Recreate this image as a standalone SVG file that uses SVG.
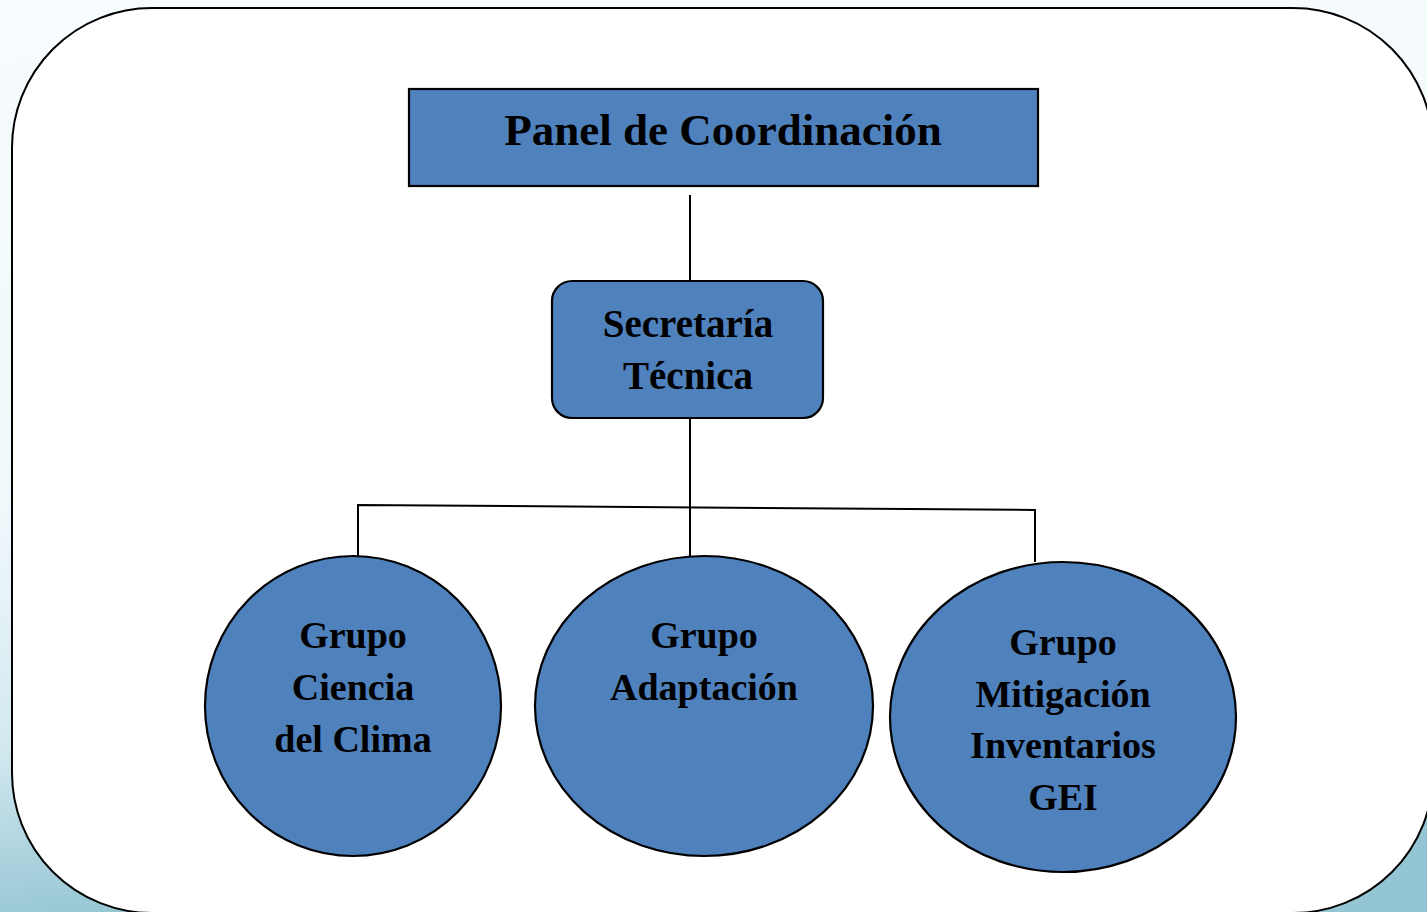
<svg xmlns="http://www.w3.org/2000/svg" width="1427" height="912" viewBox="0 0 1427 912">
  <defs>
    <linearGradient id="bg" x1="0" y1="0" x2="0.15" y2="1">
      <stop offset="0" stop-color="#f7fcfe"/>
      <stop offset="0.55" stop-color="#f0f8fb"/>
      <stop offset="0.8" stop-color="#d3e9f0"/>
      <stop offset="1" stop-color="#94c5d3"/>
    </linearGradient>
    <style>
      .node { fill: #4f81bd; stroke: #000; stroke-width: 2.2; }
      .lbl { font-family: "Liberation Serif", "DejaVu Serif", serif; font-weight: bold; fill: #000; text-anchor: middle; }
      .conn { stroke: #000; stroke-width: 2; fill: none; }
    </style>
  </defs>
  <rect x="0" y="0" width="1427" height="912" fill="url(#bg)"/>
  <rect x="12" y="8" width="1421" height="905" rx="140" ry="140" fill="#ffffff" stroke="#000" stroke-width="2"/>

  <g id="connectors">
    <line class="conn" x1="690" y1="195" x2="690" y2="281"/>
    <line class="conn" x1="690" y1="418" x2="690" y2="556"/>
    <polyline class="conn" points="358,556 358,505 1035,510 1035,562"/>
  </g>

  <g id="panel">
    <rect class="node" x="409" y="89" width="629" height="97"/>
    <text class="lbl" x="723" y="145" font-size="45">Panel de Coordinación</text>
  </g>

  <g id="secretaria">
    <rect class="node" x="552" y="281" width="271" height="137" rx="20" ry="20"/>
    <text class="lbl" x="688" y="337" font-size="39">Secretaría</text>
    <text class="lbl" x="688" y="389" font-size="39">Técnica</text>
  </g>

  <g id="grupo-ciencia">
    <ellipse class="node" cx="353" cy="706" rx="148" ry="150"/>
    <text class="lbl" x="353" y="648" font-size="38">Grupo</text>
    <text class="lbl" x="353" y="700" font-size="38">Ciencia</text>
    <text class="lbl" x="353" y="752" font-size="38">del Clima</text>
  </g>

  <g id="grupo-adaptacion">
    <ellipse class="node" cx="704" cy="706" rx="169" ry="150"/>
    <text class="lbl" x="704" y="648" font-size="38">Grupo</text>
    <text class="lbl" x="704" y="700" font-size="38">Adaptación</text>
  </g>

  <g id="grupo-mitigacion">
    <ellipse class="node" cx="1063" cy="717" rx="173" ry="155"/>
    <text class="lbl" x="1063" y="655" font-size="38">Grupo</text>
    <text class="lbl" x="1063" y="707" font-size="38">Mitigación</text>
    <text class="lbl" x="1063" y="758" font-size="38">Inventarios</text>
    <text class="lbl" x="1063" y="810" font-size="38">GEI</text>
  </g>
</svg>
